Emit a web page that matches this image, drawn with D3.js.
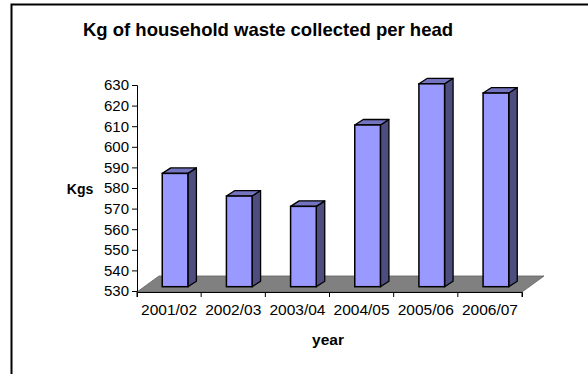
<!DOCTYPE html>
<html>
<head>
<meta charset="utf-8">
<script src="https://cdn.jsdelivr.net/npm/d3@7"></script>
<style>
  html, body { margin: 0; padding: 0; background: #fff; }
  svg { display: block; font-family: Arial, "Liberation Sans", sans-serif; }
</style>
</head>
<body>
<svg id="chart" width="588" height="374"></svg>
<script>
const categories = ["2001/02", "2002/03", "2003/04", "2004/05", "2005/06", "2006/07"];
const values = [585, 574, 569, 608.5, 628.5, 624];
const yTicks = [530, 540, 550, 560, 570, 580, 590, 600, 610, 620, 630];
const titleText = "Kg of household waste collected per head";
const yLabel = "Kgs";
const xLabel = "year";

const svg = d3.select("#chart");
const FONT = "Arial, 'Liberation Sans', sans-serif";

// outer frame (left and top edges visible)
svg.append("path")
  .attr("d", "M11.5,374 L11.5,4.5 L588,4.5")
  .attr("fill", "none").attr("stroke", "#000").attr("stroke-width", 2);

const x = d3.scaleBand().domain(categories).range([137, 522]);
const y = d3.scaleLinear().domain([530, 630]).range([291, 85]);

const floorDx = 22, floorDy = -16;
const planeDx = 6, planeDy = -4.3;
const depthDx = 8.5, depthDy = -5.5;

// floor
const y0 = y(530);
svg.append("path")
  .attr("d", `M${x.range()[0]},${y0+1} L${x.range()[0]+floorDx},${y0+1+floorDy} L${x.range()[1]+floorDx},${y0+1+floorDy} L${x.range()[1]},${y0+1} Z`)
  .attr("fill", "#808080").attr("stroke", "#606060").attr("stroke-width", 0.8);

// y axis
const yAxis = d3.axisLeft(y).tickValues(yTicks).tickSize(5).tickPadding(3).tickFormat(d3.format("d"));
const gy = svg.append("g").attr("transform", `translate(${x.range()[0]},0)`).call(yAxis);
gy.select(".domain").attr("stroke", "#000");
gy.selectAll("text").attr("font-size", 15).attr("fill", "#000").attr("font-family", FONT);

// x axis
const xAxis = d3.axisBottom(x).tickSize(5).tickSizeOuter(5).tickPadding(7);
const gx = svg.append("g").attr("transform", `translate(0,${y0+1})`).call(xAxis);
gx.select(".domain").attr("stroke", "#000");
gx.selectAll(".tick line").attr("transform", `translate(${-x.bandwidth()/2},0)`);
gx.selectAll("text").attr("font-size", 15.5).attr("fill", "#000").attr("font-family", FONT);
// last boundary tick
gx.append("line").attr("x1", x.range()[1]).attr("x2", x.range()[1]).attr("y1", 0).attr("y2", 5).attr("stroke", "#000");

// bars
const bw = x.bandwidth() * 0.4;
const bars = svg.append("g").selectAll("g").data(categories.map((c, i) => ({c, v: values[i]}))).join("g");
bars.each(function(d) {
  const g = d3.select(this);
  const bx = x(d.c) + x.bandwidth() * 0.3 + planeDx;
  const top = y(d.v) + planeDy;
  const bot = y(530) + planeDy;
  // side
  g.append("path")
    .attr("d", `M${bx+bw},${top} L${bx+bw+depthDx},${top+depthDy} L${bx+bw+depthDx},${bot+depthDy} L${bx+bw},${bot} Z`)
    .attr("fill", "#4D4D80").attr("stroke", "#000").attr("stroke-width", 1.3).attr("stroke-linejoin", "round");
  // top
  g.append("path")
    .attr("d", `M${bx},${top} L${bx+depthDx},${top+depthDy} L${bx+bw+depthDx},${top+depthDy} L${bx+bw},${top} Z`)
    .attr("fill", "#7373BF").attr("stroke", "#000").attr("stroke-width", 1.3).attr("stroke-linejoin", "round");
  // front
  g.append("rect")
    .attr("x", bx).attr("y", top).attr("width", bw).attr("height", bot - top)
    .attr("fill", "#9999FF").attr("stroke", "#000").attr("stroke-width", 1.5);
});

// title
svg.append("text").attr("x", 268).attr("y", 36).attr("text-anchor", "middle")
  .attr("font-size", 18.5).attr("font-weight", "bold").text(titleText);
// y label
svg.append("text").attr("x", 80).attr("y", 194).attr("text-anchor", "middle")
  .attr("font-size", 14).attr("font-weight", "bold").text(yLabel);
// x label
svg.append("text").attr("x", 328).attr("y", 345).attr("text-anchor", "middle")
  .attr("font-size", 15.5).attr("font-weight", "bold").text(xLabel);
</script>
</body>
</html>
